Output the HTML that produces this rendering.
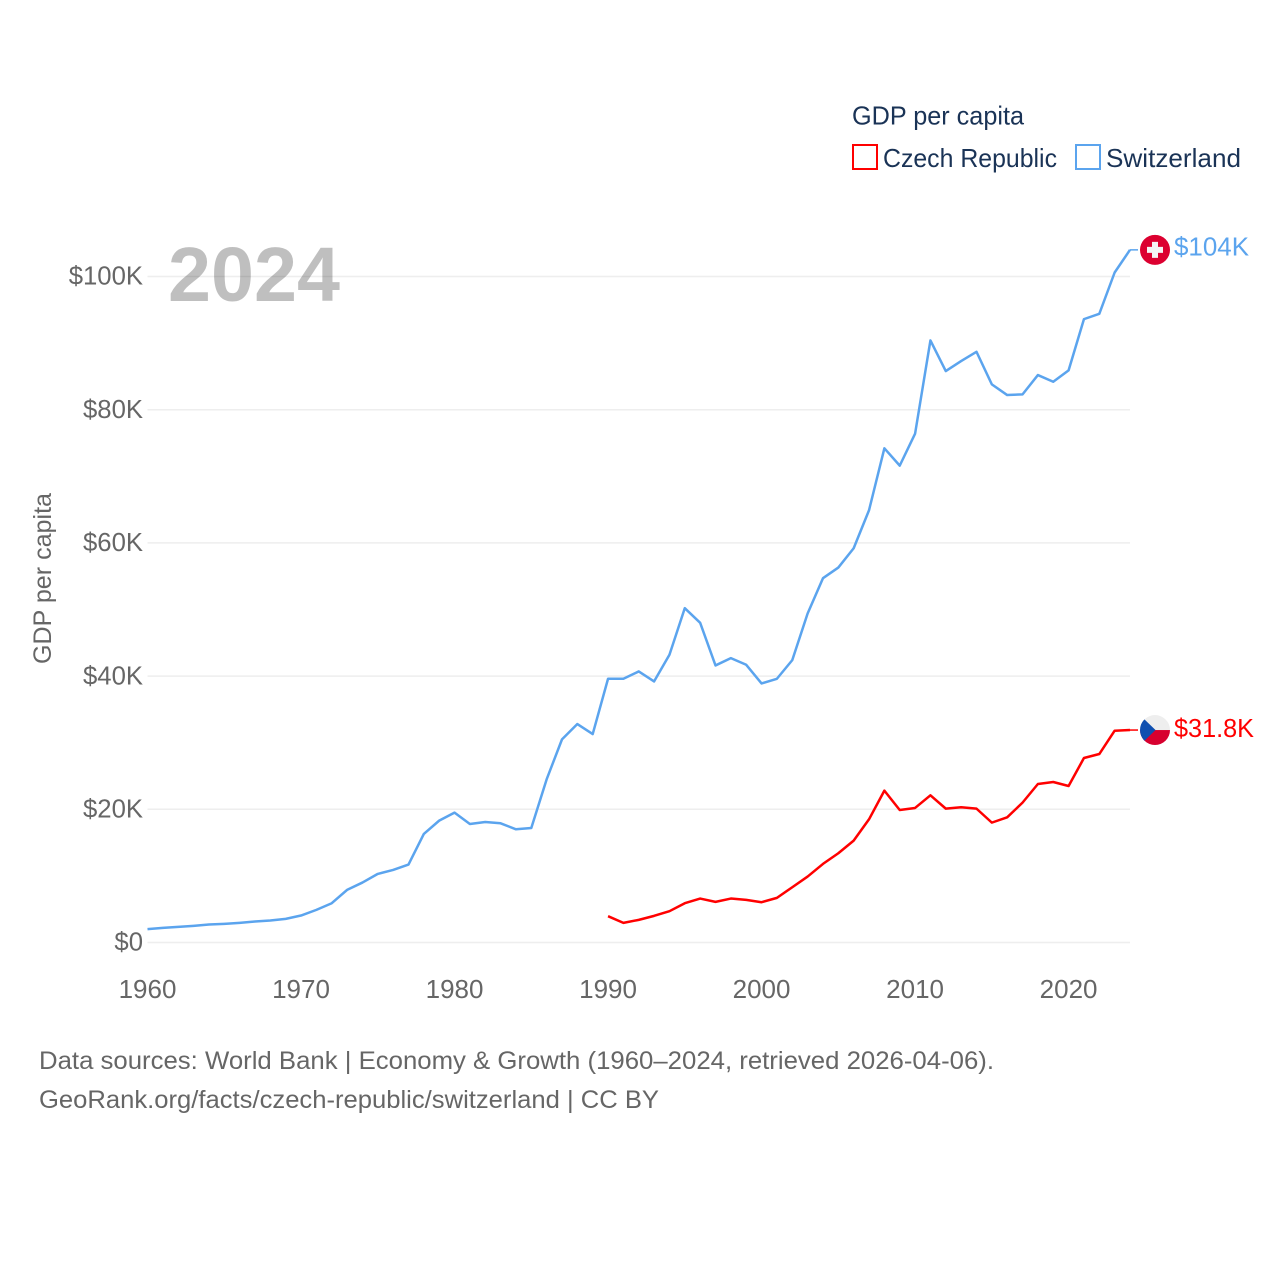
<!DOCTYPE html>
<html lang="en">
<head>
<meta charset="utf-8">
<title>GDP per capita: Czech Republic and Switzerland</title>
<style>
html,body{margin:0;padding:0;background:#fff;}
svg{display:block;}
text{font-family:"Liberation Sans","DejaVu Sans",sans-serif;}
</style>
</head>
<body>
<svg id="chart" xmlns="http://www.w3.org/2000/svg" width="1280" height="1280" viewBox="0 0 1280 1280">
  <defs>
    <clipPath id="flag-clip-cz"><circle id="clip-cz" cx="1155" cy="730" r="15"></circle></clipPath>
  </defs>
  <rect x="0" y="0" width="1280" height="1280" fill="#ffffff"></rect>
  <g id="grid"></g>
  <g id="y-ticks"></g>
  <g id="x-ticks"></g>
  <text x="51" y="578.5" transform="rotate(-90 51 578.5)" text-anchor="middle" font-size="25" fill="#666666" textLength="171" lengthAdjust="spacingAndGlyphs">GDP per capita</text>
  <g id="series"></g>
  <text x="168" y="301" font-size="77" font-weight="700" fill="#000000" fill-opacity="0.25" textLength="172" lengthAdjust="spacingAndGlyphs">2024</text>
  <g id="flag-ch"></g>
  <g id="flag-cz"></g>
  <g id="end-labels"></g>

  <g>
    <text x="852" y="124.5" font-size="26" fill="#1a3356" textLength="172" lengthAdjust="spacingAndGlyphs">GDP per capita</text>
    <g>
      <rect x="853" y="145" width="24" height="24" fill="none" stroke="#ff0000" stroke-width="2"></rect>
      <text x="883" y="167" font-size="26" fill="#1a3356" textLength="174" lengthAdjust="spacingAndGlyphs">Czech Republic</text>
    </g>
    <g>
      <rect x="1076" y="145" width="24" height="24" fill="none" stroke="#5ba4ee" stroke-width="2"></rect>
      <text x="1106" y="167" font-size="26" fill="#1a3356" textLength="135" lengthAdjust="spacingAndGlyphs">Switzerland</text>
    </g>
  </g>

  <text x="39" y="1069" font-size="25" fill="#666666" textLength="955" lengthAdjust="spacingAndGlyphs">Data sources: World Bank | Economy &amp; Growth (1960–2024, retrieved 2026-04-06).</text>
  <text x="39" y="1108" font-size="25" fill="#666666" textLength="620" lengthAdjust="spacingAndGlyphs">GeoRank.org/facts/czech-republic/switzerland | CC BY</text>
</svg>
<script>
var switzerlandStartYear = 1960;
var czechStartYear = 1990;
var switzerlandValues = [2.0,2.2,2.35,2.5,2.7,2.8,2.95,3.15,3.3,3.55,4.05,4.9,5.9,7.9,9.0,10.3,10.9,11.7,16.3,18.3,19.5,17.8,18.1,17.9,17.0,17.2,24.5,30.5,32.8,31.3,39.6,39.6,40.7,39.2,43.2,50.2,48.0,41.6,42.7,41.7,38.9,39.6,42.4,49.4,54.7,56.3,59.2,64.9,74.2,71.6,76.4,90.4,85.8,87.3,88.7,83.8,82.2,82.3,85.2,84.2,85.9,93.6,94.4,100.6,104.0];
var czechValues = [3.95,2.95,3.4,4.0,4.7,5.9,6.6,6.1,6.6,6.4,6.05,6.7,8.3,9.9,11.8,13.4,15.3,18.5,22.8,19.9,20.2,22.1,20.1,20.3,20.1,18.0,18.8,21.0,23.8,24.1,23.5,27.7,28.3,31.8,31.9];
var yTickValues = [0,20,40,60,80,100];
var yTickLabels = ["$0","$20K","$40K","$60K","$80K","$100K"];
var xTickValues = [1960,1970,1980,1990,2000,2010,2020];
var xTickLabels = ["1960","1970","1980","1990","2000","2010","2020"];
var endLabels = ["$104K","$31.8K"];

var NS = "http://www.w3.org/2000/svg";
var x0 = 147.5, x1 = 1130, y0 = 942.5, y100 = 276.5;
function xScale(year){ return x0 + (year - 1960) * (x1 - x0) / 64; }
function yScale(v){ return y0 - v * (y0 - y100) / 100; }
function make(tag, attrs, parent){
  var el = document.createElementNS(NS, tag);
  for (var k in attrs) { el.setAttribute(k, attrs[k]); }
  parent.appendChild(el);
  return el;
}
var grid = document.getElementById("grid");
var yTicks = document.getElementById("y-ticks");
var xTicks = document.getElementById("x-ticks");
var series = document.getElementById("series");
var endG = document.getElementById("end-labels");

yTickValues.forEach(function(v, i){
  var line = make("line", {x1:x0, x2:x1, y1:yScale(v), y2:yScale(v), stroke:"#eeeeee", "stroke-width":1.5}, grid);
  
  
  var t = make("text", {x:143, y:yScale(v)+8.2, "text-anchor":"end", "font-size":25.7, fill:"#666666"}, yTicks);
  t.textContent = yTickLabels[i];
  
  
});
xTickValues.forEach(function(v, i){
  var t = make("text", {x:xScale(v), y:998, "text-anchor":"middle", "font-size":26, fill:"#666666"}, xTicks);
  t.textContent = xTickLabels[i];
  
  
});
function drawSeries(values, startYear, color){
  var pts = values.map(function(v, i){ return xScale(startYear + i).toFixed(2) + "," + yScale(v).toFixed(2); });
  return make("polyline", {points:pts.join(" "), fill:"none", stroke:color, "stroke-width":2.5, "stroke-linejoin":"round"}, series);
}
function drawConnector(value, color){
  return make("line", {x1:x1, x2:x1 + 8, y1:yScale(value), y2:yScale(value), stroke:color, "stroke-width":1.5}, series);
}
var chLine = drawSeries(switzerlandValues, switzerlandStartYear, "#5ba4ee");


var czLine = drawSeries(czechValues, czechStartYear, "#ff0000");



var chLast = switzerlandValues[switzerlandValues.length - 1];
var czLast = czechValues[czechValues.length - 1];
var chConn = drawConnector(chLast, "#5ba4ee");


var czConn = drawConnector(czLast, "#ff0000");



var fx = 1155, chY = yScale(chLast), czY = yScale(czLast), r = 15;

document.getElementById("clip-cz").setAttribute("cy", czY);

var fch = document.getElementById("flag-ch");
make("circle", {cx:fx, cy:chY, r:r, fill:"#dc0030"}, fch);
make("rect", {x:fx-8, y:chY-3, width:16, height:6, fill:"#f4f4f4"}, fch);
make("rect", {x:fx-3, y:chY-8, width:6, height:16, fill:"#f4f4f4"}, fch);

var fcz = document.getElementById("flag-cz");
var czG = make("g", {"clip-path":"url(#flag-clip-cz)"}, fcz);
make("rect", {x:fx-r, y:czY-r, width:2*r, height:r, fill:"#eeeeee"}, czG);
make("rect", {x:fx-r, y:czY, width:2*r, height:r, fill:"#d7002f"}, czG);
make("polygon", {points:(fx-r)+","+(czY-r)+" "+(fx+0.5)+","+czY+" "+(fx-r)+","+(czY+r), fill:"#0f4fb0"}, czG);

var l1 = make("text", {x:1174, y:chY+5.5, "font-size":26, fill:"#5ba4ee", textLength:75, lengthAdjust:"spacingAndGlyphs"}, endG);
l1.textContent = endLabels[0];


var l2 = make("text", {x:1174, y:czY+7, "font-size":26, fill:"#ff0000", textLength:80, lengthAdjust:"spacingAndGlyphs"}, endG);
l2.textContent = endLabels[1];


</script>
</body>
</html>
